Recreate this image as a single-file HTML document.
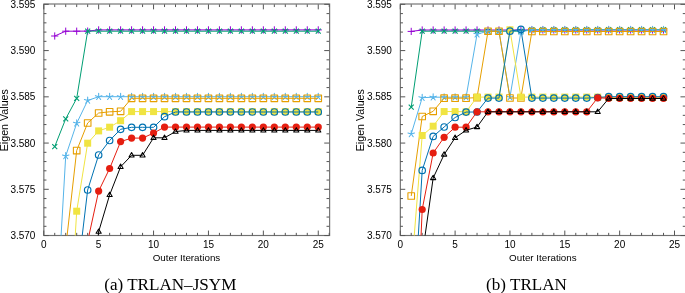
<!DOCTYPE html><html><head><meta charset="utf-8"><style>html,body{margin:0;padding:0;background:#fff;width:685px;height:293px;overflow:hidden}svg{display:block;will-change:transform}text{font-family:"Liberation Sans",sans-serif}</style></head><body>
<svg width="685" height="293" viewBox="0 0 685 293">
<clipPath id="c0"><rect x="43.75" y="4.35" width="285.48" height="231.20"/></clipPath>
<rect x="43.85" y="4.00" width="285.78" height="231.50" fill="none" stroke="#707070" stroke-width="1.15"/>
<path d="M43.75 235.55v-5.0M43.75 4.35v5.0M54.73 235.55v-2.7M54.73 4.35v2.7M65.71 235.55v-2.7M65.71 4.35v2.7M76.69 235.55v-2.7M76.69 4.35v2.7M87.67 235.55v-2.7M87.67 4.35v2.7M98.65 235.55v-5.0M98.65 4.35v5.0M109.63 235.55v-2.7M109.63 4.35v2.7M120.61 235.55v-2.7M120.61 4.35v2.7M131.59 235.55v-2.7M131.59 4.35v2.7M142.57 235.55v-2.7M142.57 4.35v2.7M153.55 235.55v-5.0M153.55 4.35v5.0M164.53 235.55v-2.7M164.53 4.35v2.7M175.51 235.55v-2.7M175.51 4.35v2.7M186.49 235.55v-2.7M186.49 4.35v2.7M197.47 235.55v-2.7M197.47 4.35v2.7M208.45 235.55v-5.0M208.45 4.35v5.0M219.43 235.55v-2.7M219.43 4.35v2.7M230.41 235.55v-2.7M230.41 4.35v2.7M241.39 235.55v-2.7M241.39 4.35v2.7M252.37 235.55v-2.7M252.37 4.35v2.7M263.35 235.55v-5.0M263.35 4.35v5.0M274.33 235.55v-2.7M274.33 4.35v2.7M285.31 235.55v-2.7M285.31 4.35v2.7M296.29 235.55v-2.7M296.29 4.35v2.7M307.27 235.55v-2.7M307.27 4.35v2.7M318.25 235.55v-5.0M318.25 4.35v5.0M329.23 235.55v-2.7M329.23 4.35v2.7M43.75 4.35h5.0M329.23 4.35h-5.0M43.75 13.60h2.7M329.23 13.60h-2.7M43.75 22.85h2.7M329.23 22.85h-2.7M43.75 32.09h2.7M329.23 32.09h-2.7M43.75 41.34h2.7M329.23 41.34h-2.7M43.75 50.59h5.0M329.23 50.59h-5.0M43.75 59.84h2.7M329.23 59.84h-2.7M43.75 69.09h2.7M329.23 69.09h-2.7M43.75 78.33h2.7M329.23 78.33h-2.7M43.75 87.58h2.7M329.23 87.58h-2.7M43.75 96.83h5.0M329.23 96.83h-5.0M43.75 106.08h2.7M329.23 106.08h-2.7M43.75 115.33h2.7M329.23 115.33h-2.7M43.75 124.57h2.7M329.23 124.57h-2.7M43.75 133.82h2.7M329.23 133.82h-2.7M43.75 143.07h5.0M329.23 143.07h-5.0M43.75 152.32h2.7M329.23 152.32h-2.7M43.75 161.57h2.7M329.23 161.57h-2.7M43.75 170.81h2.7M329.23 170.81h-2.7M43.75 180.06h2.7M329.23 180.06h-2.7M43.75 189.31h5.0M329.23 189.31h-5.0M43.75 198.56h2.7M329.23 198.56h-2.7M43.75 207.81h2.7M329.23 207.81h-2.7M43.75 217.05h2.7M329.23 217.05h-2.7M43.75 226.30h2.7M329.23 226.30h-2.7M43.75 235.55h5.0M329.23 235.55h-5.0" stroke="#555" stroke-width="1" fill="none"/>
<text x="35.45" y="7.85" font-size="10" text-anchor="end">3.595</text>
<text x="35.45" y="54.09" font-size="10" text-anchor="end">3.590</text>
<text x="35.45" y="100.33" font-size="10" text-anchor="end">3.585</text>
<text x="35.45" y="146.57" font-size="10" text-anchor="end">3.580</text>
<text x="35.45" y="192.81" font-size="10" text-anchor="end">3.575</text>
<text x="35.45" y="239.05" font-size="10" text-anchor="end">3.570</text>
<text x="43.75" y="247.85" font-size="10" text-anchor="middle">0</text>
<text x="98.65" y="247.85" font-size="10" text-anchor="middle">5</text>
<text x="153.55" y="247.85" font-size="10" text-anchor="middle">10</text>
<text x="208.45" y="247.85" font-size="10" text-anchor="middle">15</text>
<text x="263.35" y="247.85" font-size="10" text-anchor="middle">20</text>
<text x="318.25" y="247.85" font-size="10" text-anchor="middle">25</text>
<text x="186.49" y="260.85" font-size="9.8" text-anchor="middle">Outer Iterations</text>
<text transform="translate(7.85,120.20) rotate(-90)" font-size="10.7" text-anchor="middle">Eigen Values</text>
<text x="170.30" y="289.70" font-size="17.1" text-anchor="middle" style="font-family:'Liberation Serif',serif">(a) TRLAN–JSYM</text>
<g clip-path="url(#c0)"><path d="M54.73 36.00L65.71 31.20L76.69 31.20L87.67 31.10L98.65 29.90L109.63 29.90L120.61 29.90L131.59 29.90L142.57 29.90L153.55 29.90L164.53 29.90L175.51 29.90L186.49 29.90L197.47 29.90L208.45 29.90L219.43 29.90L230.41 29.90L241.39 29.90L252.37 29.90L263.35 29.90L274.33 29.90L285.31 29.90L296.29 29.90L307.27 29.90L318.25 29.90" stroke="#9400D3" stroke-width="1" fill="none" stroke-linejoin="round"/><path d="M51.13 36.00H58.33M54.73 32.40V39.60" stroke="#9400D3" stroke-width="1.0" fill="none"/><path d="M62.11 31.20H69.31M65.71 27.60V34.80" stroke="#9400D3" stroke-width="1.0" fill="none"/><path d="M73.09 31.20H80.29M76.69 27.60V34.80" stroke="#9400D3" stroke-width="1.0" fill="none"/><path d="M84.07 31.10H91.27M87.67 27.50V34.70" stroke="#9400D3" stroke-width="1.0" fill="none"/><path d="M95.05 29.90H102.25M98.65 26.30V33.50" stroke="#9400D3" stroke-width="1.0" fill="none"/><path d="M106.03 29.90H113.23M109.63 26.30V33.50" stroke="#9400D3" stroke-width="1.0" fill="none"/><path d="M117.01 29.90H124.21M120.61 26.30V33.50" stroke="#9400D3" stroke-width="1.0" fill="none"/><path d="M127.99 29.90H135.19M131.59 26.30V33.50" stroke="#9400D3" stroke-width="1.0" fill="none"/><path d="M138.97 29.90H146.17M142.57 26.30V33.50" stroke="#9400D3" stroke-width="1.0" fill="none"/><path d="M149.95 29.90H157.15M153.55 26.30V33.50" stroke="#9400D3" stroke-width="1.0" fill="none"/><path d="M160.93 29.90H168.13M164.53 26.30V33.50" stroke="#9400D3" stroke-width="1.0" fill="none"/><path d="M171.91 29.90H179.11M175.51 26.30V33.50" stroke="#9400D3" stroke-width="1.0" fill="none"/><path d="M182.89 29.90H190.09M186.49 26.30V33.50" stroke="#9400D3" stroke-width="1.0" fill="none"/><path d="M193.87 29.90H201.07M197.47 26.30V33.50" stroke="#9400D3" stroke-width="1.0" fill="none"/><path d="M204.85 29.90H212.05M208.45 26.30V33.50" stroke="#9400D3" stroke-width="1.0" fill="none"/><path d="M215.83 29.90H223.03M219.43 26.30V33.50" stroke="#9400D3" stroke-width="1.0" fill="none"/><path d="M226.81 29.90H234.01M230.41 26.30V33.50" stroke="#9400D3" stroke-width="1.0" fill="none"/><path d="M237.79 29.90H244.99M241.39 26.30V33.50" stroke="#9400D3" stroke-width="1.0" fill="none"/><path d="M248.77 29.90H255.97M252.37 26.30V33.50" stroke="#9400D3" stroke-width="1.0" fill="none"/><path d="M259.75 29.90H266.95M263.35 26.30V33.50" stroke="#9400D3" stroke-width="1.0" fill="none"/><path d="M270.73 29.90H277.93M274.33 26.30V33.50" stroke="#9400D3" stroke-width="1.0" fill="none"/><path d="M281.71 29.90H288.91M285.31 26.30V33.50" stroke="#9400D3" stroke-width="1.0" fill="none"/><path d="M292.69 29.90H299.89M296.29 26.30V33.50" stroke="#9400D3" stroke-width="1.0" fill="none"/><path d="M303.67 29.90H310.87M307.27 26.30V33.50" stroke="#9400D3" stroke-width="1.0" fill="none"/><path d="M314.65 29.90H321.85M318.25 26.30V33.50" stroke="#9400D3" stroke-width="1.0" fill="none"/><path d="M54.73 146.60L65.71 118.80L76.69 98.40L87.67 31.10L98.65 31.20L109.63 31.20L120.61 31.20L131.59 31.20L142.57 31.20L153.55 31.20L164.53 31.20L175.51 31.20L186.49 31.20L197.47 31.20L208.45 31.20L219.43 31.20L230.41 31.20L241.39 31.20L252.37 31.20L263.35 31.20L274.33 31.20L285.31 31.20L296.29 31.20L307.27 31.20L318.25 31.20" stroke="#009E73" stroke-width="1" fill="none" stroke-linejoin="round"/><path d="M52.23 144.10L57.23 149.10M52.23 149.10L57.23 144.10" stroke="#009E73" stroke-width="1.15" fill="none"/><path d="M63.21 116.30L68.21 121.30M63.21 121.30L68.21 116.30" stroke="#009E73" stroke-width="1.15" fill="none"/><path d="M74.19 95.90L79.19 100.90M74.19 100.90L79.19 95.90" stroke="#009E73" stroke-width="1.15" fill="none"/><path d="M85.17 28.60L90.17 33.60M85.17 33.60L90.17 28.60" stroke="#009E73" stroke-width="1.15" fill="none"/><path d="M96.15 28.70L101.15 33.70M96.15 33.70L101.15 28.70" stroke="#009E73" stroke-width="1.15" fill="none"/><path d="M107.13 28.70L112.13 33.70M107.13 33.70L112.13 28.70" stroke="#009E73" stroke-width="1.15" fill="none"/><path d="M118.11 28.70L123.11 33.70M118.11 33.70L123.11 28.70" stroke="#009E73" stroke-width="1.15" fill="none"/><path d="M129.09 28.70L134.09 33.70M129.09 33.70L134.09 28.70" stroke="#009E73" stroke-width="1.15" fill="none"/><path d="M140.07 28.70L145.07 33.70M140.07 33.70L145.07 28.70" stroke="#009E73" stroke-width="1.15" fill="none"/><path d="M151.05 28.70L156.05 33.70M151.05 33.70L156.05 28.70" stroke="#009E73" stroke-width="1.15" fill="none"/><path d="M162.03 28.70L167.03 33.70M162.03 33.70L167.03 28.70" stroke="#009E73" stroke-width="1.15" fill="none"/><path d="M173.01 28.70L178.01 33.70M173.01 33.70L178.01 28.70" stroke="#009E73" stroke-width="1.15" fill="none"/><path d="M183.99 28.70L188.99 33.70M183.99 33.70L188.99 28.70" stroke="#009E73" stroke-width="1.15" fill="none"/><path d="M194.97 28.70L199.97 33.70M194.97 33.70L199.97 28.70" stroke="#009E73" stroke-width="1.15" fill="none"/><path d="M205.95 28.70L210.95 33.70M205.95 33.70L210.95 28.70" stroke="#009E73" stroke-width="1.15" fill="none"/><path d="M216.93 28.70L221.93 33.70M216.93 33.70L221.93 28.70" stroke="#009E73" stroke-width="1.15" fill="none"/><path d="M227.91 28.70L232.91 33.70M227.91 33.70L232.91 28.70" stroke="#009E73" stroke-width="1.15" fill="none"/><path d="M238.89 28.70L243.89 33.70M238.89 33.70L243.89 28.70" stroke="#009E73" stroke-width="1.15" fill="none"/><path d="M249.87 28.70L254.87 33.70M249.87 33.70L254.87 28.70" stroke="#009E73" stroke-width="1.15" fill="none"/><path d="M260.85 28.70L265.85 33.70M260.85 33.70L265.85 28.70" stroke="#009E73" stroke-width="1.15" fill="none"/><path d="M271.83 28.70L276.83 33.70M271.83 33.70L276.83 28.70" stroke="#009E73" stroke-width="1.15" fill="none"/><path d="M282.81 28.70L287.81 33.70M282.81 33.70L287.81 28.70" stroke="#009E73" stroke-width="1.15" fill="none"/><path d="M293.79 28.70L298.79 33.70M293.79 33.70L298.79 28.70" stroke="#009E73" stroke-width="1.15" fill="none"/><path d="M304.77 28.70L309.77 33.70M304.77 33.70L309.77 28.70" stroke="#009E73" stroke-width="1.15" fill="none"/><path d="M315.75 28.70L320.75 33.70M315.75 33.70L320.75 28.70" stroke="#009E73" stroke-width="1.15" fill="none"/><path d="M54.73 345.00L65.71 156.00L76.69 123.30L87.67 100.50L98.65 96.70L109.63 96.70L120.61 96.70L131.59 96.70L142.57 96.70L153.55 96.70L164.53 96.70L175.51 96.70L186.49 96.70L197.47 96.70L208.45 96.70L219.43 96.70L230.41 96.70L241.39 96.70L252.37 96.70L263.35 96.70L274.33 96.70L285.31 96.70L296.29 96.70L307.27 96.70L318.25 96.70" stroke="#56B4E9" stroke-width="1" fill="none" stroke-linejoin="round"/><path d="M54.73 345.00L54.73 341.60M54.73 345.00L57.96 343.95M54.73 345.00L56.73 347.75M54.73 345.00L52.73 347.75M54.73 345.00L51.50 343.95" stroke="#56B4E9" stroke-width="1.1" fill="none" stroke-linecap="round"/><path d="M65.71 156.00L65.71 152.60M65.71 156.00L68.94 154.95M65.71 156.00L67.71 158.75M65.71 156.00L63.71 158.75M65.71 156.00L62.48 154.95" stroke="#56B4E9" stroke-width="1.1" fill="none" stroke-linecap="round"/><path d="M76.69 123.30L76.69 119.90M76.69 123.30L79.92 122.25M76.69 123.30L78.69 126.05M76.69 123.30L74.69 126.05M76.69 123.30L73.46 122.25" stroke="#56B4E9" stroke-width="1.1" fill="none" stroke-linecap="round"/><path d="M87.67 100.50L87.67 97.10M87.67 100.50L90.90 99.45M87.67 100.50L89.67 103.25M87.67 100.50L85.67 103.25M87.67 100.50L84.44 99.45" stroke="#56B4E9" stroke-width="1.1" fill="none" stroke-linecap="round"/><path d="M98.65 96.70L98.65 93.30M98.65 96.70L101.88 95.65M98.65 96.70L100.65 99.45M98.65 96.70L96.65 99.45M98.65 96.70L95.42 95.65" stroke="#56B4E9" stroke-width="1.1" fill="none" stroke-linecap="round"/><path d="M109.63 96.70L109.63 93.30M109.63 96.70L112.86 95.65M109.63 96.70L111.63 99.45M109.63 96.70L107.63 99.45M109.63 96.70L106.40 95.65" stroke="#56B4E9" stroke-width="1.1" fill="none" stroke-linecap="round"/><path d="M120.61 96.70L120.61 93.30M120.61 96.70L123.84 95.65M120.61 96.70L122.61 99.45M120.61 96.70L118.61 99.45M120.61 96.70L117.38 95.65" stroke="#56B4E9" stroke-width="1.1" fill="none" stroke-linecap="round"/><path d="M131.59 96.70L131.59 93.30M131.59 96.70L134.82 95.65M131.59 96.70L133.59 99.45M131.59 96.70L129.59 99.45M131.59 96.70L128.36 95.65" stroke="#56B4E9" stroke-width="1.1" fill="none" stroke-linecap="round"/><path d="M142.57 96.70L142.57 93.30M142.57 96.70L145.80 95.65M142.57 96.70L144.57 99.45M142.57 96.70L140.57 99.45M142.57 96.70L139.34 95.65" stroke="#56B4E9" stroke-width="1.1" fill="none" stroke-linecap="round"/><path d="M153.55 96.70L153.55 93.30M153.55 96.70L156.78 95.65M153.55 96.70L155.55 99.45M153.55 96.70L151.55 99.45M153.55 96.70L150.32 95.65" stroke="#56B4E9" stroke-width="1.1" fill="none" stroke-linecap="round"/><path d="M164.53 96.70L164.53 93.30M164.53 96.70L167.76 95.65M164.53 96.70L166.53 99.45M164.53 96.70L162.53 99.45M164.53 96.70L161.30 95.65" stroke="#56B4E9" stroke-width="1.1" fill="none" stroke-linecap="round"/><path d="M175.51 96.70L175.51 93.30M175.51 96.70L178.74 95.65M175.51 96.70L177.51 99.45M175.51 96.70L173.51 99.45M175.51 96.70L172.28 95.65" stroke="#56B4E9" stroke-width="1.1" fill="none" stroke-linecap="round"/><path d="M186.49 96.70L186.49 93.30M186.49 96.70L189.72 95.65M186.49 96.70L188.49 99.45M186.49 96.70L184.49 99.45M186.49 96.70L183.26 95.65" stroke="#56B4E9" stroke-width="1.1" fill="none" stroke-linecap="round"/><path d="M197.47 96.70L197.47 93.30M197.47 96.70L200.70 95.65M197.47 96.70L199.47 99.45M197.47 96.70L195.47 99.45M197.47 96.70L194.24 95.65" stroke="#56B4E9" stroke-width="1.1" fill="none" stroke-linecap="round"/><path d="M208.45 96.70L208.45 93.30M208.45 96.70L211.68 95.65M208.45 96.70L210.45 99.45M208.45 96.70L206.45 99.45M208.45 96.70L205.22 95.65" stroke="#56B4E9" stroke-width="1.1" fill="none" stroke-linecap="round"/><path d="M219.43 96.70L219.43 93.30M219.43 96.70L222.66 95.65M219.43 96.70L221.43 99.45M219.43 96.70L217.43 99.45M219.43 96.70L216.20 95.65" stroke="#56B4E9" stroke-width="1.1" fill="none" stroke-linecap="round"/><path d="M230.41 96.70L230.41 93.30M230.41 96.70L233.64 95.65M230.41 96.70L232.41 99.45M230.41 96.70L228.41 99.45M230.41 96.70L227.18 95.65" stroke="#56B4E9" stroke-width="1.1" fill="none" stroke-linecap="round"/><path d="M241.39 96.70L241.39 93.30M241.39 96.70L244.62 95.65M241.39 96.70L243.39 99.45M241.39 96.70L239.39 99.45M241.39 96.70L238.16 95.65" stroke="#56B4E9" stroke-width="1.1" fill="none" stroke-linecap="round"/><path d="M252.37 96.70L252.37 93.30M252.37 96.70L255.60 95.65M252.37 96.70L254.37 99.45M252.37 96.70L250.37 99.45M252.37 96.70L249.14 95.65" stroke="#56B4E9" stroke-width="1.1" fill="none" stroke-linecap="round"/><path d="M263.35 96.70L263.35 93.30M263.35 96.70L266.58 95.65M263.35 96.70L265.35 99.45M263.35 96.70L261.35 99.45M263.35 96.70L260.12 95.65" stroke="#56B4E9" stroke-width="1.1" fill="none" stroke-linecap="round"/><path d="M274.33 96.70L274.33 93.30M274.33 96.70L277.56 95.65M274.33 96.70L276.33 99.45M274.33 96.70L272.33 99.45M274.33 96.70L271.10 95.65" stroke="#56B4E9" stroke-width="1.1" fill="none" stroke-linecap="round"/><path d="M285.31 96.70L285.31 93.30M285.31 96.70L288.54 95.65M285.31 96.70L287.31 99.45M285.31 96.70L283.31 99.45M285.31 96.70L282.08 95.65" stroke="#56B4E9" stroke-width="1.1" fill="none" stroke-linecap="round"/><path d="M296.29 96.70L296.29 93.30M296.29 96.70L299.52 95.65M296.29 96.70L298.29 99.45M296.29 96.70L294.29 99.45M296.29 96.70L293.06 95.65" stroke="#56B4E9" stroke-width="1.1" fill="none" stroke-linecap="round"/><path d="M307.27 96.70L307.27 93.30M307.27 96.70L310.50 95.65M307.27 96.70L309.27 99.45M307.27 96.70L305.27 99.45M307.27 96.70L304.04 95.65" stroke="#56B4E9" stroke-width="1.1" fill="none" stroke-linecap="round"/><path d="M318.25 96.70L318.25 93.30M318.25 96.70L321.48 95.65M318.25 96.70L320.25 99.45M318.25 96.70L316.25 99.45M318.25 96.70L315.02 95.65" stroke="#56B4E9" stroke-width="1.1" fill="none" stroke-linecap="round"/><path d="M54.73 340.00L65.71 247.90L76.69 150.60L87.67 123.00L98.65 113.00L109.63 111.80L120.61 111.30L131.59 98.30L142.57 98.30L153.55 98.30L164.53 98.30L175.51 98.30L186.49 98.30L197.47 98.30L208.45 98.30L219.43 98.30L230.41 98.30L241.39 98.30L252.37 98.30L263.35 98.30L274.33 98.30L285.31 98.30L296.29 98.30L307.27 98.30L318.25 98.30" stroke="#E69F00" stroke-width="1" fill="none" stroke-linejoin="round"/><rect x="51.43" y="336.70" width="6.60" height="6.60" stroke="#E69F00" stroke-width="1.1" fill="none" stroke-linejoin="round"/><rect x="62.41" y="244.60" width="6.60" height="6.60" stroke="#E69F00" stroke-width="1.1" fill="none" stroke-linejoin="round"/><rect x="73.39" y="147.30" width="6.60" height="6.60" stroke="#E69F00" stroke-width="1.1" fill="none" stroke-linejoin="round"/><rect x="84.37" y="119.70" width="6.60" height="6.60" stroke="#E69F00" stroke-width="1.1" fill="none" stroke-linejoin="round"/><rect x="95.35" y="109.70" width="6.60" height="6.60" stroke="#E69F00" stroke-width="1.1" fill="none" stroke-linejoin="round"/><rect x="106.33" y="108.50" width="6.60" height="6.60" stroke="#E69F00" stroke-width="1.1" fill="none" stroke-linejoin="round"/><rect x="117.31" y="108.00" width="6.60" height="6.60" stroke="#E69F00" stroke-width="1.1" fill="none" stroke-linejoin="round"/><rect x="128.29" y="95.00" width="6.60" height="6.60" stroke="#E69F00" stroke-width="1.1" fill="none" stroke-linejoin="round"/><rect x="139.27" y="95.00" width="6.60" height="6.60" stroke="#E69F00" stroke-width="1.1" fill="none" stroke-linejoin="round"/><rect x="150.25" y="95.00" width="6.60" height="6.60" stroke="#E69F00" stroke-width="1.1" fill="none" stroke-linejoin="round"/><rect x="161.23" y="95.00" width="6.60" height="6.60" stroke="#E69F00" stroke-width="1.1" fill="none" stroke-linejoin="round"/><rect x="172.21" y="95.00" width="6.60" height="6.60" stroke="#E69F00" stroke-width="1.1" fill="none" stroke-linejoin="round"/><rect x="183.19" y="95.00" width="6.60" height="6.60" stroke="#E69F00" stroke-width="1.1" fill="none" stroke-linejoin="round"/><rect x="194.17" y="95.00" width="6.60" height="6.60" stroke="#E69F00" stroke-width="1.1" fill="none" stroke-linejoin="round"/><rect x="205.15" y="95.00" width="6.60" height="6.60" stroke="#E69F00" stroke-width="1.1" fill="none" stroke-linejoin="round"/><rect x="216.13" y="95.00" width="6.60" height="6.60" stroke="#E69F00" stroke-width="1.1" fill="none" stroke-linejoin="round"/><rect x="227.11" y="95.00" width="6.60" height="6.60" stroke="#E69F00" stroke-width="1.1" fill="none" stroke-linejoin="round"/><rect x="238.09" y="95.00" width="6.60" height="6.60" stroke="#E69F00" stroke-width="1.1" fill="none" stroke-linejoin="round"/><rect x="249.07" y="95.00" width="6.60" height="6.60" stroke="#E69F00" stroke-width="1.1" fill="none" stroke-linejoin="round"/><rect x="260.05" y="95.00" width="6.60" height="6.60" stroke="#E69F00" stroke-width="1.1" fill="none" stroke-linejoin="round"/><rect x="271.03" y="95.00" width="6.60" height="6.60" stroke="#E69F00" stroke-width="1.1" fill="none" stroke-linejoin="round"/><rect x="282.01" y="95.00" width="6.60" height="6.60" stroke="#E69F00" stroke-width="1.1" fill="none" stroke-linejoin="round"/><rect x="292.99" y="95.00" width="6.60" height="6.60" stroke="#E69F00" stroke-width="1.1" fill="none" stroke-linejoin="round"/><rect x="303.97" y="95.00" width="6.60" height="6.60" stroke="#E69F00" stroke-width="1.1" fill="none" stroke-linejoin="round"/><rect x="314.95" y="95.00" width="6.60" height="6.60" stroke="#E69F00" stroke-width="1.1" fill="none" stroke-linejoin="round"/><path d="M65.71 397.00L76.69 211.20L87.67 143.20L98.65 130.90L109.63 127.20L120.61 120.70L131.59 111.60L142.57 111.60L153.55 111.60L164.53 111.60L175.51 111.60L186.49 111.60L197.47 111.60L208.45 111.60L219.43 111.60L230.41 111.60L241.39 111.60L252.37 111.60L263.35 111.60L274.33 111.60L285.31 111.60L296.29 111.60L307.27 111.60L318.25 111.60" stroke="#F0E442" stroke-width="1" fill="none" stroke-linejoin="round"/><rect x="62.21" y="393.50" width="7.00" height="7.00" fill="#F0E442"/><rect x="73.19" y="207.70" width="7.00" height="7.00" fill="#F0E442"/><rect x="84.17" y="139.70" width="7.00" height="7.00" fill="#F0E442"/><rect x="95.15" y="127.40" width="7.00" height="7.00" fill="#F0E442"/><rect x="106.13" y="123.70" width="7.00" height="7.00" fill="#F0E442"/><rect x="117.11" y="117.20" width="7.00" height="7.00" fill="#F0E442"/><rect x="128.09" y="108.10" width="7.00" height="7.00" fill="#F0E442"/><rect x="139.07" y="108.10" width="7.00" height="7.00" fill="#F0E442"/><rect x="150.05" y="108.10" width="7.00" height="7.00" fill="#F0E442"/><rect x="161.03" y="108.10" width="7.00" height="7.00" fill="#F0E442"/><rect x="172.01" y="108.10" width="7.00" height="7.00" fill="#F0E442"/><rect x="182.99" y="108.10" width="7.00" height="7.00" fill="#F0E442"/><rect x="193.97" y="108.10" width="7.00" height="7.00" fill="#F0E442"/><rect x="204.95" y="108.10" width="7.00" height="7.00" fill="#F0E442"/><rect x="215.93" y="108.10" width="7.00" height="7.00" fill="#F0E442"/><rect x="226.91" y="108.10" width="7.00" height="7.00" fill="#F0E442"/><rect x="237.89" y="108.10" width="7.00" height="7.00" fill="#F0E442"/><rect x="248.87" y="108.10" width="7.00" height="7.00" fill="#F0E442"/><rect x="259.85" y="108.10" width="7.00" height="7.00" fill="#F0E442"/><rect x="270.83" y="108.10" width="7.00" height="7.00" fill="#F0E442"/><rect x="281.81" y="108.10" width="7.00" height="7.00" fill="#F0E442"/><rect x="292.79" y="108.10" width="7.00" height="7.00" fill="#F0E442"/><rect x="303.77" y="108.10" width="7.00" height="7.00" fill="#F0E442"/><rect x="314.75" y="108.10" width="7.00" height="7.00" fill="#F0E442"/><path d="M76.69 282.00L87.67 190.00L98.65 155.00L109.63 140.50L120.61 129.30L131.59 127.30L142.57 127.30L153.55 127.30L164.53 116.70L175.51 112.00L186.49 112.00L197.47 112.00L208.45 112.00L219.43 112.00L230.41 112.00L241.39 112.00L252.37 112.00L263.35 112.00L274.33 112.00L285.31 112.00L296.29 112.00L307.27 112.00L318.25 112.00" stroke="#0072B2" stroke-width="1" fill="none" stroke-linejoin="round"/><circle cx="76.69" cy="282.00" r="3.25" stroke="#0072B2" stroke-width="1.2" fill="none"/><circle cx="87.67" cy="190.00" r="3.25" stroke="#0072B2" stroke-width="1.2" fill="none"/><circle cx="98.65" cy="155.00" r="3.25" stroke="#0072B2" stroke-width="1.2" fill="none"/><circle cx="109.63" cy="140.50" r="3.25" stroke="#0072B2" stroke-width="1.2" fill="none"/><circle cx="120.61" cy="129.30" r="3.25" stroke="#0072B2" stroke-width="1.2" fill="none"/><circle cx="131.59" cy="127.30" r="3.25" stroke="#0072B2" stroke-width="1.2" fill="none"/><circle cx="142.57" cy="127.30" r="3.25" stroke="#0072B2" stroke-width="1.2" fill="none"/><circle cx="153.55" cy="127.30" r="3.25" stroke="#0072B2" stroke-width="1.2" fill="none"/><circle cx="164.53" cy="116.70" r="3.25" stroke="#0072B2" stroke-width="1.2" fill="none"/><circle cx="175.51" cy="112.00" r="3.25" stroke="#0072B2" stroke-width="1.2" fill="none"/><circle cx="186.49" cy="112.00" r="3.25" stroke="#0072B2" stroke-width="1.2" fill="none"/><circle cx="197.47" cy="112.00" r="3.25" stroke="#0072B2" stroke-width="1.2" fill="none"/><circle cx="208.45" cy="112.00" r="3.25" stroke="#0072B2" stroke-width="1.2" fill="none"/><circle cx="219.43" cy="112.00" r="3.25" stroke="#0072B2" stroke-width="1.2" fill="none"/><circle cx="230.41" cy="112.00" r="3.25" stroke="#0072B2" stroke-width="1.2" fill="none"/><circle cx="241.39" cy="112.00" r="3.25" stroke="#0072B2" stroke-width="1.2" fill="none"/><circle cx="252.37" cy="112.00" r="3.25" stroke="#0072B2" stroke-width="1.2" fill="none"/><circle cx="263.35" cy="112.00" r="3.25" stroke="#0072B2" stroke-width="1.2" fill="none"/><circle cx="274.33" cy="112.00" r="3.25" stroke="#0072B2" stroke-width="1.2" fill="none"/><circle cx="285.31" cy="112.00" r="3.25" stroke="#0072B2" stroke-width="1.2" fill="none"/><circle cx="296.29" cy="112.00" r="3.25" stroke="#0072B2" stroke-width="1.2" fill="none"/><circle cx="307.27" cy="112.00" r="3.25" stroke="#0072B2" stroke-width="1.2" fill="none"/><circle cx="318.25" cy="112.00" r="3.25" stroke="#0072B2" stroke-width="1.2" fill="none"/><path d="M87.67 241.50L98.65 191.10L109.63 168.50L120.61 141.60L131.59 138.10L142.57 138.10L153.55 133.10L164.53 127.10L175.51 127.10L186.49 127.10L197.47 127.10L208.45 127.10L219.43 127.10L230.41 127.10L241.39 127.10L252.37 127.10L263.35 127.10L274.33 127.10L285.31 127.10L296.29 127.10L307.27 127.10L318.25 127.10" stroke="#E51E10" stroke-width="1" fill="none" stroke-linejoin="round"/><circle cx="87.67" cy="241.50" r="3.6" fill="#E51E10"/><circle cx="98.65" cy="191.10" r="3.6" fill="#E51E10"/><circle cx="109.63" cy="168.50" r="3.6" fill="#E51E10"/><circle cx="120.61" cy="141.60" r="3.6" fill="#E51E10"/><circle cx="131.59" cy="138.10" r="3.6" fill="#E51E10"/><circle cx="142.57" cy="138.10" r="3.6" fill="#E51E10"/><circle cx="153.55" cy="133.10" r="3.6" fill="#E51E10"/><circle cx="164.53" cy="127.10" r="3.6" fill="#E51E10"/><circle cx="175.51" cy="127.10" r="3.6" fill="#E51E10"/><circle cx="186.49" cy="127.10" r="3.6" fill="#E51E10"/><circle cx="197.47" cy="127.10" r="3.6" fill="#E51E10"/><circle cx="208.45" cy="127.10" r="3.6" fill="#E51E10"/><circle cx="219.43" cy="127.10" r="3.6" fill="#E51E10"/><circle cx="230.41" cy="127.10" r="3.6" fill="#E51E10"/><circle cx="241.39" cy="127.10" r="3.6" fill="#E51E10"/><circle cx="252.37" cy="127.10" r="3.6" fill="#E51E10"/><circle cx="263.35" cy="127.10" r="3.6" fill="#E51E10"/><circle cx="274.33" cy="127.10" r="3.6" fill="#E51E10"/><circle cx="285.31" cy="127.10" r="3.6" fill="#E51E10"/><circle cx="296.29" cy="127.10" r="3.6" fill="#E51E10"/><circle cx="307.27" cy="127.10" r="3.6" fill="#E51E10"/><circle cx="318.25" cy="127.10" r="3.6" fill="#E51E10"/><path d="M87.67 330.00L98.65 231.70L109.63 194.90L120.61 166.80L131.59 155.30L142.57 155.30L153.55 137.80L164.53 137.80L175.51 131.60L186.49 130.40L197.47 130.40L208.45 130.40L219.43 130.40L230.41 130.40L241.39 130.40L252.37 130.40L263.35 130.40L274.33 130.40L285.31 130.40L296.29 130.40L307.27 130.40L318.25 130.40" stroke="#000000" stroke-width="1" fill="none" stroke-linejoin="round"/><path d="M87.67 327.25L90.27 331.60H85.07Z" stroke="#000000" stroke-width="1.05" fill="none" stroke-linejoin="round"/><path d="M98.65 228.95L101.25 233.30H96.05Z" stroke="#000000" stroke-width="1.05" fill="none" stroke-linejoin="round"/><path d="M109.63 192.15L112.23 196.50H107.03Z" stroke="#000000" stroke-width="1.05" fill="none" stroke-linejoin="round"/><path d="M120.61 164.05L123.21 168.40H118.01Z" stroke="#000000" stroke-width="1.05" fill="none" stroke-linejoin="round"/><path d="M131.59 152.55L134.19 156.90H128.99Z" stroke="#000000" stroke-width="1.05" fill="none" stroke-linejoin="round"/><path d="M142.57 152.55L145.17 156.90H139.97Z" stroke="#000000" stroke-width="1.05" fill="none" stroke-linejoin="round"/><path d="M153.55 135.05L156.15 139.40H150.95Z" stroke="#000000" stroke-width="1.05" fill="none" stroke-linejoin="round"/><path d="M164.53 135.05L167.13 139.40H161.93Z" stroke="#000000" stroke-width="1.05" fill="none" stroke-linejoin="round"/><path d="M175.51 128.85L178.11 133.20H172.91Z" stroke="#000000" stroke-width="1.05" fill="none" stroke-linejoin="round"/><path d="M186.49 127.65L189.09 132.00H183.89Z" stroke="#000000" stroke-width="1.05" fill="none" stroke-linejoin="round"/><path d="M197.47 127.65L200.07 132.00H194.87Z" stroke="#000000" stroke-width="1.05" fill="none" stroke-linejoin="round"/><path d="M208.45 127.65L211.05 132.00H205.85Z" stroke="#000000" stroke-width="1.05" fill="none" stroke-linejoin="round"/><path d="M219.43 127.65L222.03 132.00H216.83Z" stroke="#000000" stroke-width="1.05" fill="none" stroke-linejoin="round"/><path d="M230.41 127.65L233.01 132.00H227.81Z" stroke="#000000" stroke-width="1.05" fill="none" stroke-linejoin="round"/><path d="M241.39 127.65L243.99 132.00H238.79Z" stroke="#000000" stroke-width="1.05" fill="none" stroke-linejoin="round"/><path d="M252.37 127.65L254.97 132.00H249.77Z" stroke="#000000" stroke-width="1.05" fill="none" stroke-linejoin="round"/><path d="M263.35 127.65L265.95 132.00H260.75Z" stroke="#000000" stroke-width="1.05" fill="none" stroke-linejoin="round"/><path d="M274.33 127.65L276.93 132.00H271.73Z" stroke="#000000" stroke-width="1.05" fill="none" stroke-linejoin="round"/><path d="M285.31 127.65L287.91 132.00H282.71Z" stroke="#000000" stroke-width="1.05" fill="none" stroke-linejoin="round"/><path d="M296.29 127.65L298.89 132.00H293.69Z" stroke="#000000" stroke-width="1.05" fill="none" stroke-linejoin="round"/><path d="M307.27 127.65L309.87 132.00H304.67Z" stroke="#000000" stroke-width="1.05" fill="none" stroke-linejoin="round"/><path d="M318.25 127.65L320.85 132.00H315.65Z" stroke="#000000" stroke-width="1.05" fill="none" stroke-linejoin="round"/></g>
<clipPath id="c1"><rect x="400.25" y="4.35" width="285.22" height="231.20"/></clipPath>
<rect x="400.35" y="4.00" width="285.52" height="231.50" fill="none" stroke="#707070" stroke-width="1.15"/>
<path d="M400.25 235.55v-5.0M400.25 4.35v5.0M411.22 235.55v-2.7M411.22 4.35v2.7M422.19 235.55v-2.7M422.19 4.35v2.7M433.16 235.55v-2.7M433.16 4.35v2.7M444.13 235.55v-2.7M444.13 4.35v2.7M455.10 235.55v-5.0M455.10 4.35v5.0M466.07 235.55v-2.7M466.07 4.35v2.7M477.04 235.55v-2.7M477.04 4.35v2.7M488.01 235.55v-2.7M488.01 4.35v2.7M498.98 235.55v-2.7M498.98 4.35v2.7M509.95 235.55v-5.0M509.95 4.35v5.0M520.92 235.55v-2.7M520.92 4.35v2.7M531.89 235.55v-2.7M531.89 4.35v2.7M542.86 235.55v-2.7M542.86 4.35v2.7M553.83 235.55v-2.7M553.83 4.35v2.7M564.80 235.55v-5.0M564.80 4.35v5.0M575.77 235.55v-2.7M575.77 4.35v2.7M586.74 235.55v-2.7M586.74 4.35v2.7M597.71 235.55v-2.7M597.71 4.35v2.7M608.68 235.55v-2.7M608.68 4.35v2.7M619.65 235.55v-5.0M619.65 4.35v5.0M630.62 235.55v-2.7M630.62 4.35v2.7M641.59 235.55v-2.7M641.59 4.35v2.7M652.56 235.55v-2.7M652.56 4.35v2.7M663.53 235.55v-2.7M663.53 4.35v2.7M674.50 235.55v-5.0M674.50 4.35v5.0M685.47 235.55v-2.7M685.47 4.35v2.7M400.25 4.35h5.0M685.47 4.35h-5.0M400.25 13.60h2.7M685.47 13.60h-2.7M400.25 22.85h2.7M685.47 22.85h-2.7M400.25 32.09h2.7M685.47 32.09h-2.7M400.25 41.34h2.7M685.47 41.34h-2.7M400.25 50.59h5.0M685.47 50.59h-5.0M400.25 59.84h2.7M685.47 59.84h-2.7M400.25 69.09h2.7M685.47 69.09h-2.7M400.25 78.33h2.7M685.47 78.33h-2.7M400.25 87.58h2.7M685.47 87.58h-2.7M400.25 96.83h5.0M685.47 96.83h-5.0M400.25 106.08h2.7M685.47 106.08h-2.7M400.25 115.33h2.7M685.47 115.33h-2.7M400.25 124.57h2.7M685.47 124.57h-2.7M400.25 133.82h2.7M685.47 133.82h-2.7M400.25 143.07h5.0M685.47 143.07h-5.0M400.25 152.32h2.7M685.47 152.32h-2.7M400.25 161.57h2.7M685.47 161.57h-2.7M400.25 170.81h2.7M685.47 170.81h-2.7M400.25 180.06h2.7M685.47 180.06h-2.7M400.25 189.31h5.0M685.47 189.31h-5.0M400.25 198.56h2.7M685.47 198.56h-2.7M400.25 207.81h2.7M685.47 207.81h-2.7M400.25 217.05h2.7M685.47 217.05h-2.7M400.25 226.30h2.7M685.47 226.30h-2.7M400.25 235.55h5.0M685.47 235.55h-5.0" stroke="#555" stroke-width="1" fill="none"/>
<text x="391.95" y="7.85" font-size="10" text-anchor="end">3.595</text>
<text x="391.95" y="54.09" font-size="10" text-anchor="end">3.590</text>
<text x="391.95" y="100.33" font-size="10" text-anchor="end">3.585</text>
<text x="391.95" y="146.57" font-size="10" text-anchor="end">3.580</text>
<text x="391.95" y="192.81" font-size="10" text-anchor="end">3.575</text>
<text x="391.95" y="239.05" font-size="10" text-anchor="end">3.570</text>
<text x="400.25" y="247.85" font-size="10" text-anchor="middle">0</text>
<text x="455.10" y="247.85" font-size="10" text-anchor="middle">5</text>
<text x="509.95" y="247.85" font-size="10" text-anchor="middle">10</text>
<text x="564.80" y="247.85" font-size="10" text-anchor="middle">15</text>
<text x="619.65" y="247.85" font-size="10" text-anchor="middle">20</text>
<text x="674.50" y="247.85" font-size="10" text-anchor="middle">25</text>
<text x="542.86" y="260.85" font-size="9.8" text-anchor="middle">Outer Iterations</text>
<text transform="translate(364.35,120.20) rotate(-90)" font-size="10.7" text-anchor="middle">Eigen Values</text>
<text x="526.50" y="289.70" font-size="17.1" text-anchor="middle" style="font-family:'Liberation Serif',serif">(b) TRLAN</text>
<g clip-path="url(#c1)"><path d="M411.22 31.40L422.19 30.00L433.16 30.00L444.13 30.00L455.10 30.00L466.07 30.00L477.04 30.00L488.01 30.00L498.98 30.00L509.95 30.00L520.92 30.00L531.89 30.00L542.86 30.00L553.83 30.00L564.80 30.00L575.77 30.00L586.74 30.00L597.71 30.00L608.68 30.00L619.65 30.00L630.62 30.00L641.59 30.00L652.56 30.00L663.53 30.00" stroke="#9400D3" stroke-width="1" fill="none" stroke-linejoin="round"/><path d="M407.62 31.40H414.82M411.22 27.80V35.00" stroke="#9400D3" stroke-width="1.0" fill="none"/><path d="M418.59 30.00H425.79M422.19 26.40V33.60" stroke="#9400D3" stroke-width="1.0" fill="none"/><path d="M429.56 30.00H436.76M433.16 26.40V33.60" stroke="#9400D3" stroke-width="1.0" fill="none"/><path d="M440.53 30.00H447.73M444.13 26.40V33.60" stroke="#9400D3" stroke-width="1.0" fill="none"/><path d="M451.50 30.00H458.70M455.10 26.40V33.60" stroke="#9400D3" stroke-width="1.0" fill="none"/><path d="M462.47 30.00H469.67M466.07 26.40V33.60" stroke="#9400D3" stroke-width="1.0" fill="none"/><path d="M473.44 30.00H480.64M477.04 26.40V33.60" stroke="#9400D3" stroke-width="1.0" fill="none"/><path d="M484.41 30.00H491.61M488.01 26.40V33.60" stroke="#9400D3" stroke-width="1.0" fill="none"/><path d="M495.38 30.00H502.58M498.98 26.40V33.60" stroke="#9400D3" stroke-width="1.0" fill="none"/><path d="M506.35 30.00H513.55M509.95 26.40V33.60" stroke="#9400D3" stroke-width="1.0" fill="none"/><path d="M517.32 30.00H524.52M520.92 26.40V33.60" stroke="#9400D3" stroke-width="1.0" fill="none"/><path d="M528.29 30.00H535.49M531.89 26.40V33.60" stroke="#9400D3" stroke-width="1.0" fill="none"/><path d="M539.26 30.00H546.46M542.86 26.40V33.60" stroke="#9400D3" stroke-width="1.0" fill="none"/><path d="M550.23 30.00H557.43M553.83 26.40V33.60" stroke="#9400D3" stroke-width="1.0" fill="none"/><path d="M561.20 30.00H568.40M564.80 26.40V33.60" stroke="#9400D3" stroke-width="1.0" fill="none"/><path d="M572.17 30.00H579.37M575.77 26.40V33.60" stroke="#9400D3" stroke-width="1.0" fill="none"/><path d="M583.14 30.00H590.34M586.74 26.40V33.60" stroke="#9400D3" stroke-width="1.0" fill="none"/><path d="M594.11 30.00H601.31M597.71 26.40V33.60" stroke="#9400D3" stroke-width="1.0" fill="none"/><path d="M605.08 30.00H612.28M608.68 26.40V33.60" stroke="#9400D3" stroke-width="1.0" fill="none"/><path d="M616.05 30.00H623.25M619.65 26.40V33.60" stroke="#9400D3" stroke-width="1.0" fill="none"/><path d="M627.02 30.00H634.22M630.62 26.40V33.60" stroke="#9400D3" stroke-width="1.0" fill="none"/><path d="M637.99 30.00H645.19M641.59 26.40V33.60" stroke="#9400D3" stroke-width="1.0" fill="none"/><path d="M648.96 30.00H656.16M652.56 26.40V33.60" stroke="#9400D3" stroke-width="1.0" fill="none"/><path d="M659.93 30.00H667.13M663.53 26.40V33.60" stroke="#9400D3" stroke-width="1.0" fill="none"/><path d="M411.22 107.10L422.19 31.20L433.16 31.20L444.13 31.20L455.10 31.20L466.07 31.20L477.04 31.20L488.01 31.20L498.98 31.20L509.95 31.20L520.92 31.20L531.89 29.60L542.86 29.60L553.83 29.60L564.80 29.60L575.77 29.60L586.74 29.60L597.71 29.60L608.68 29.60L619.65 29.60L630.62 29.60L641.59 29.60L652.56 29.60L663.53 29.60" stroke="#009E73" stroke-width="1" fill="none" stroke-linejoin="round"/><path d="M408.72 104.60L413.72 109.60M408.72 109.60L413.72 104.60" stroke="#009E73" stroke-width="1.15" fill="none"/><path d="M419.69 28.70L424.69 33.70M419.69 33.70L424.69 28.70" stroke="#009E73" stroke-width="1.15" fill="none"/><path d="M430.66 28.70L435.66 33.70M430.66 33.70L435.66 28.70" stroke="#009E73" stroke-width="1.15" fill="none"/><path d="M441.63 28.70L446.63 33.70M441.63 33.70L446.63 28.70" stroke="#009E73" stroke-width="1.15" fill="none"/><path d="M452.60 28.70L457.60 33.70M452.60 33.70L457.60 28.70" stroke="#009E73" stroke-width="1.15" fill="none"/><path d="M463.57 28.70L468.57 33.70M463.57 33.70L468.57 28.70" stroke="#009E73" stroke-width="1.15" fill="none"/><path d="M474.54 28.70L479.54 33.70M474.54 33.70L479.54 28.70" stroke="#009E73" stroke-width="1.15" fill="none"/><path d="M485.51 28.70L490.51 33.70M485.51 33.70L490.51 28.70" stroke="#009E73" stroke-width="1.15" fill="none"/><path d="M496.48 28.70L501.48 33.70M496.48 33.70L501.48 28.70" stroke="#009E73" stroke-width="1.15" fill="none"/><path d="M507.45 28.70L512.45 33.70M507.45 33.70L512.45 28.70" stroke="#009E73" stroke-width="1.15" fill="none"/><path d="M518.42 28.70L523.42 33.70M518.42 33.70L523.42 28.70" stroke="#009E73" stroke-width="1.15" fill="none"/><path d="M529.39 27.10L534.39 32.10M529.39 32.10L534.39 27.10" stroke="#009E73" stroke-width="1.15" fill="none"/><path d="M540.36 27.10L545.36 32.10M540.36 32.10L545.36 27.10" stroke="#009E73" stroke-width="1.15" fill="none"/><path d="M551.33 27.10L556.33 32.10M551.33 32.10L556.33 27.10" stroke="#009E73" stroke-width="1.15" fill="none"/><path d="M562.30 27.10L567.30 32.10M562.30 32.10L567.30 27.10" stroke="#009E73" stroke-width="1.15" fill="none"/><path d="M573.27 27.10L578.27 32.10M573.27 32.10L578.27 27.10" stroke="#009E73" stroke-width="1.15" fill="none"/><path d="M584.24 27.10L589.24 32.10M584.24 32.10L589.24 27.10" stroke="#009E73" stroke-width="1.15" fill="none"/><path d="M595.21 27.10L600.21 32.10M595.21 32.10L600.21 27.10" stroke="#009E73" stroke-width="1.15" fill="none"/><path d="M606.18 27.10L611.18 32.10M606.18 32.10L611.18 27.10" stroke="#009E73" stroke-width="1.15" fill="none"/><path d="M617.15 27.10L622.15 32.10M617.15 32.10L622.15 27.10" stroke="#009E73" stroke-width="1.15" fill="none"/><path d="M628.12 27.10L633.12 32.10M628.12 32.10L633.12 27.10" stroke="#009E73" stroke-width="1.15" fill="none"/><path d="M639.09 27.10L644.09 32.10M639.09 32.10L644.09 27.10" stroke="#009E73" stroke-width="1.15" fill="none"/><path d="M650.06 27.10L655.06 32.10M650.06 32.10L655.06 27.10" stroke="#009E73" stroke-width="1.15" fill="none"/><path d="M661.03 27.10L666.03 32.10M661.03 32.10L666.03 27.10" stroke="#009E73" stroke-width="1.15" fill="none"/><path d="M411.22 134.00L422.19 97.70L433.16 97.20L444.13 97.20L455.10 97.20L466.07 97.20L477.04 34.30L488.01 31.00L498.98 31.00L509.95 97.20L520.92 31.80L531.89 29.80L542.86 29.80L553.83 29.80L564.80 29.80L575.77 29.80L586.74 29.80L597.71 29.80L608.68 29.80L619.65 29.80L630.62 29.80L641.59 29.80L652.56 29.80L663.53 29.80" stroke="#56B4E9" stroke-width="1" fill="none" stroke-linejoin="round"/><path d="M411.22 134.00L411.22 130.60M411.22 134.00L414.45 132.95M411.22 134.00L413.22 136.75M411.22 134.00L409.22 136.75M411.22 134.00L407.99 132.95" stroke="#56B4E9" stroke-width="1.1" fill="none" stroke-linecap="round"/><path d="M422.19 97.70L422.19 94.30M422.19 97.70L425.42 96.65M422.19 97.70L424.19 100.45M422.19 97.70L420.19 100.45M422.19 97.70L418.96 96.65" stroke="#56B4E9" stroke-width="1.1" fill="none" stroke-linecap="round"/><path d="M433.16 97.20L433.16 93.80M433.16 97.20L436.39 96.15M433.16 97.20L435.16 99.95M433.16 97.20L431.16 99.95M433.16 97.20L429.93 96.15" stroke="#56B4E9" stroke-width="1.1" fill="none" stroke-linecap="round"/><path d="M444.13 97.20L444.13 93.80M444.13 97.20L447.36 96.15M444.13 97.20L446.13 99.95M444.13 97.20L442.13 99.95M444.13 97.20L440.90 96.15" stroke="#56B4E9" stroke-width="1.1" fill="none" stroke-linecap="round"/><path d="M455.10 97.20L455.10 93.80M455.10 97.20L458.33 96.15M455.10 97.20L457.10 99.95M455.10 97.20L453.10 99.95M455.10 97.20L451.87 96.15" stroke="#56B4E9" stroke-width="1.1" fill="none" stroke-linecap="round"/><path d="M466.07 97.20L466.07 93.80M466.07 97.20L469.30 96.15M466.07 97.20L468.07 99.95M466.07 97.20L464.07 99.95M466.07 97.20L462.84 96.15" stroke="#56B4E9" stroke-width="1.1" fill="none" stroke-linecap="round"/><path d="M477.04 34.30L477.04 30.90M477.04 34.30L480.27 33.25M477.04 34.30L479.04 37.05M477.04 34.30L475.04 37.05M477.04 34.30L473.81 33.25" stroke="#56B4E9" stroke-width="1.1" fill="none" stroke-linecap="round"/><path d="M488.01 31.00L488.01 27.60M488.01 31.00L491.24 29.95M488.01 31.00L490.01 33.75M488.01 31.00L486.01 33.75M488.01 31.00L484.78 29.95" stroke="#56B4E9" stroke-width="1.1" fill="none" stroke-linecap="round"/><path d="M498.98 31.00L498.98 27.60M498.98 31.00L502.21 29.95M498.98 31.00L500.98 33.75M498.98 31.00L496.98 33.75M498.98 31.00L495.75 29.95" stroke="#56B4E9" stroke-width="1.1" fill="none" stroke-linecap="round"/><path d="M509.95 97.20L509.95 93.80M509.95 97.20L513.18 96.15M509.95 97.20L511.95 99.95M509.95 97.20L507.95 99.95M509.95 97.20L506.72 96.15" stroke="#56B4E9" stroke-width="1.1" fill="none" stroke-linecap="round"/><path d="M520.92 31.80L520.92 28.40M520.92 31.80L524.15 30.75M520.92 31.80L522.92 34.55M520.92 31.80L518.92 34.55M520.92 31.80L517.69 30.75" stroke="#56B4E9" stroke-width="1.1" fill="none" stroke-linecap="round"/><path d="M531.89 29.80L531.89 26.40M531.89 29.80L535.12 28.75M531.89 29.80L533.89 32.55M531.89 29.80L529.89 32.55M531.89 29.80L528.66 28.75" stroke="#56B4E9" stroke-width="1.1" fill="none" stroke-linecap="round"/><path d="M542.86 29.80L542.86 26.40M542.86 29.80L546.09 28.75M542.86 29.80L544.86 32.55M542.86 29.80L540.86 32.55M542.86 29.80L539.63 28.75" stroke="#56B4E9" stroke-width="1.1" fill="none" stroke-linecap="round"/><path d="M553.83 29.80L553.83 26.40M553.83 29.80L557.06 28.75M553.83 29.80L555.83 32.55M553.83 29.80L551.83 32.55M553.83 29.80L550.60 28.75" stroke="#56B4E9" stroke-width="1.1" fill="none" stroke-linecap="round"/><path d="M564.80 29.80L564.80 26.40M564.80 29.80L568.03 28.75M564.80 29.80L566.80 32.55M564.80 29.80L562.80 32.55M564.80 29.80L561.57 28.75" stroke="#56B4E9" stroke-width="1.1" fill="none" stroke-linecap="round"/><path d="M575.77 29.80L575.77 26.40M575.77 29.80L579.00 28.75M575.77 29.80L577.77 32.55M575.77 29.80L573.77 32.55M575.77 29.80L572.54 28.75" stroke="#56B4E9" stroke-width="1.1" fill="none" stroke-linecap="round"/><path d="M586.74 29.80L586.74 26.40M586.74 29.80L589.97 28.75M586.74 29.80L588.74 32.55M586.74 29.80L584.74 32.55M586.74 29.80L583.51 28.75" stroke="#56B4E9" stroke-width="1.1" fill="none" stroke-linecap="round"/><path d="M597.71 29.80L597.71 26.40M597.71 29.80L600.94 28.75M597.71 29.80L599.71 32.55M597.71 29.80L595.71 32.55M597.71 29.80L594.48 28.75" stroke="#56B4E9" stroke-width="1.1" fill="none" stroke-linecap="round"/><path d="M608.68 29.80L608.68 26.40M608.68 29.80L611.91 28.75M608.68 29.80L610.68 32.55M608.68 29.80L606.68 32.55M608.68 29.80L605.45 28.75" stroke="#56B4E9" stroke-width="1.1" fill="none" stroke-linecap="round"/><path d="M619.65 29.80L619.65 26.40M619.65 29.80L622.88 28.75M619.65 29.80L621.65 32.55M619.65 29.80L617.65 32.55M619.65 29.80L616.42 28.75" stroke="#56B4E9" stroke-width="1.1" fill="none" stroke-linecap="round"/><path d="M630.62 29.80L630.62 26.40M630.62 29.80L633.85 28.75M630.62 29.80L632.62 32.55M630.62 29.80L628.62 32.55M630.62 29.80L627.39 28.75" stroke="#56B4E9" stroke-width="1.1" fill="none" stroke-linecap="round"/><path d="M641.59 29.80L641.59 26.40M641.59 29.80L644.82 28.75M641.59 29.80L643.59 32.55M641.59 29.80L639.59 32.55M641.59 29.80L638.36 28.75" stroke="#56B4E9" stroke-width="1.1" fill="none" stroke-linecap="round"/><path d="M652.56 29.80L652.56 26.40M652.56 29.80L655.79 28.75M652.56 29.80L654.56 32.55M652.56 29.80L650.56 32.55M652.56 29.80L649.33 28.75" stroke="#56B4E9" stroke-width="1.1" fill="none" stroke-linecap="round"/><path d="M663.53 29.80L663.53 26.40M663.53 29.80L666.76 28.75M663.53 29.80L665.53 32.55M663.53 29.80L661.53 32.55M663.53 29.80L660.30 28.75" stroke="#56B4E9" stroke-width="1.1" fill="none" stroke-linecap="round"/><path d="M411.22 196.00L422.19 116.50L433.16 111.30L444.13 98.20L455.10 98.20L466.07 98.20L477.04 97.60L488.01 31.25L498.98 31.25L509.95 98.00L520.92 98.00L531.89 31.50L542.86 31.50L553.83 31.50L564.80 31.50L575.77 31.50L586.74 31.50L597.71 31.50L608.68 31.50L619.65 31.50L630.62 31.50L641.59 31.50L652.56 31.50L663.53 31.50" stroke="#E69F00" stroke-width="1" fill="none" stroke-linejoin="round"/><rect x="407.92" y="192.70" width="6.60" height="6.60" stroke="#E69F00" stroke-width="1.1" fill="none" stroke-linejoin="round"/><rect x="418.89" y="113.20" width="6.60" height="6.60" stroke="#E69F00" stroke-width="1.1" fill="none" stroke-linejoin="round"/><rect x="429.86" y="108.00" width="6.60" height="6.60" stroke="#E69F00" stroke-width="1.1" fill="none" stroke-linejoin="round"/><rect x="440.83" y="94.90" width="6.60" height="6.60" stroke="#E69F00" stroke-width="1.1" fill="none" stroke-linejoin="round"/><rect x="451.80" y="94.90" width="6.60" height="6.60" stroke="#E69F00" stroke-width="1.1" fill="none" stroke-linejoin="round"/><rect x="462.77" y="94.90" width="6.60" height="6.60" stroke="#E69F00" stroke-width="1.1" fill="none" stroke-linejoin="round"/><rect x="473.74" y="94.30" width="6.60" height="6.60" stroke="#E69F00" stroke-width="1.1" fill="none" stroke-linejoin="round"/><rect x="484.71" y="27.95" width="6.60" height="6.60" stroke="#E69F00" stroke-width="1.1" fill="none" stroke-linejoin="round"/><rect x="495.68" y="27.95" width="6.60" height="6.60" stroke="#E69F00" stroke-width="1.1" fill="none" stroke-linejoin="round"/><rect x="506.65" y="94.70" width="6.60" height="6.60" stroke="#E69F00" stroke-width="1.1" fill="none" stroke-linejoin="round"/><rect x="517.62" y="94.70" width="6.60" height="6.60" stroke="#E69F00" stroke-width="1.1" fill="none" stroke-linejoin="round"/><rect x="528.59" y="28.20" width="6.60" height="6.60" stroke="#E69F00" stroke-width="1.1" fill="none" stroke-linejoin="round"/><rect x="539.56" y="28.20" width="6.60" height="6.60" stroke="#E69F00" stroke-width="1.1" fill="none" stroke-linejoin="round"/><rect x="550.53" y="28.20" width="6.60" height="6.60" stroke="#E69F00" stroke-width="1.1" fill="none" stroke-linejoin="round"/><rect x="561.50" y="28.20" width="6.60" height="6.60" stroke="#E69F00" stroke-width="1.1" fill="none" stroke-linejoin="round"/><rect x="572.47" y="28.20" width="6.60" height="6.60" stroke="#E69F00" stroke-width="1.1" fill="none" stroke-linejoin="round"/><rect x="583.44" y="28.20" width="6.60" height="6.60" stroke="#E69F00" stroke-width="1.1" fill="none" stroke-linejoin="round"/><rect x="594.41" y="28.20" width="6.60" height="6.60" stroke="#E69F00" stroke-width="1.1" fill="none" stroke-linejoin="round"/><rect x="605.38" y="28.20" width="6.60" height="6.60" stroke="#E69F00" stroke-width="1.1" fill="none" stroke-linejoin="round"/><rect x="616.35" y="28.20" width="6.60" height="6.60" stroke="#E69F00" stroke-width="1.1" fill="none" stroke-linejoin="round"/><rect x="627.32" y="28.20" width="6.60" height="6.60" stroke="#E69F00" stroke-width="1.1" fill="none" stroke-linejoin="round"/><rect x="638.29" y="28.20" width="6.60" height="6.60" stroke="#E69F00" stroke-width="1.1" fill="none" stroke-linejoin="round"/><rect x="649.26" y="28.20" width="6.60" height="6.60" stroke="#E69F00" stroke-width="1.1" fill="none" stroke-linejoin="round"/><rect x="660.23" y="28.20" width="6.60" height="6.60" stroke="#E69F00" stroke-width="1.1" fill="none" stroke-linejoin="round"/><path d="M411.22 273.70L422.19 135.50L433.16 126.20L444.13 111.55L455.10 111.55L466.07 111.80L477.04 97.10L488.01 97.10L498.98 97.10L509.95 29.80L520.92 97.10L531.89 97.10L542.86 97.10L553.83 97.10L564.80 97.10L575.77 97.10L586.74 97.10L597.71 97.10L608.68 97.40L619.65 97.40L630.62 97.40L641.59 97.40L652.56 97.40L663.53 97.40" stroke="#F0E442" stroke-width="1" fill="none" stroke-linejoin="round"/><rect x="407.72" y="270.20" width="7.00" height="7.00" fill="#F0E442"/><rect x="418.69" y="132.00" width="7.00" height="7.00" fill="#F0E442"/><rect x="429.66" y="122.70" width="7.00" height="7.00" fill="#F0E442"/><rect x="440.63" y="108.05" width="7.00" height="7.00" fill="#F0E442"/><rect x="451.60" y="108.05" width="7.00" height="7.00" fill="#F0E442"/><rect x="462.57" y="108.30" width="7.00" height="7.00" fill="#F0E442"/><rect x="473.54" y="93.60" width="7.00" height="7.00" fill="#F0E442"/><rect x="484.51" y="93.60" width="7.00" height="7.00" fill="#F0E442"/><rect x="495.48" y="93.60" width="7.00" height="7.00" fill="#F0E442"/><rect x="506.45" y="26.30" width="7.00" height="7.00" fill="#F0E442"/><rect x="517.42" y="93.60" width="7.00" height="7.00" fill="#F0E442"/><rect x="528.39" y="93.60" width="7.00" height="7.00" fill="#F0E442"/><rect x="539.36" y="93.60" width="7.00" height="7.00" fill="#F0E442"/><rect x="550.33" y="93.60" width="7.00" height="7.00" fill="#F0E442"/><rect x="561.30" y="93.60" width="7.00" height="7.00" fill="#F0E442"/><rect x="572.27" y="93.60" width="7.00" height="7.00" fill="#F0E442"/><rect x="583.24" y="93.60" width="7.00" height="7.00" fill="#F0E442"/><rect x="594.21" y="93.60" width="7.00" height="7.00" fill="#F0E442"/><rect x="605.18" y="93.90" width="7.00" height="7.00" fill="#F0E442"/><rect x="616.15" y="93.90" width="7.00" height="7.00" fill="#F0E442"/><rect x="627.12" y="93.90" width="7.00" height="7.00" fill="#F0E442"/><rect x="638.09" y="93.90" width="7.00" height="7.00" fill="#F0E442"/><rect x="649.06" y="93.90" width="7.00" height="7.00" fill="#F0E442"/><rect x="660.03" y="93.90" width="7.00" height="7.00" fill="#F0E442"/><path d="M411.22 355.00L422.19 170.40L433.16 136.40L444.13 127.00L455.10 117.50L466.07 112.05L477.04 112.00L488.01 98.10L498.98 98.10L509.95 31.20L520.92 29.40L531.89 98.10L542.86 98.10L553.83 98.10L564.80 98.10L575.77 98.10L586.74 98.10L597.71 97.50L608.68 96.70L619.65 96.70L630.62 96.70L641.59 96.70L652.56 96.70L663.53 96.70" stroke="#0072B2" stroke-width="1" fill="none" stroke-linejoin="round"/><circle cx="411.22" cy="355.00" r="3.25" stroke="#0072B2" stroke-width="1.2" fill="none"/><circle cx="422.19" cy="170.40" r="3.25" stroke="#0072B2" stroke-width="1.2" fill="none"/><circle cx="433.16" cy="136.40" r="3.25" stroke="#0072B2" stroke-width="1.2" fill="none"/><circle cx="444.13" cy="127.00" r="3.25" stroke="#0072B2" stroke-width="1.2" fill="none"/><circle cx="455.10" cy="117.50" r="3.25" stroke="#0072B2" stroke-width="1.2" fill="none"/><circle cx="466.07" cy="112.05" r="3.25" stroke="#0072B2" stroke-width="1.2" fill="none"/><circle cx="477.04" cy="112.00" r="3.25" stroke="#0072B2" stroke-width="1.2" fill="none"/><circle cx="488.01" cy="98.10" r="3.25" stroke="#0072B2" stroke-width="1.2" fill="none"/><circle cx="498.98" cy="98.10" r="3.25" stroke="#0072B2" stroke-width="1.2" fill="none"/><circle cx="509.95" cy="31.20" r="3.25" stroke="#0072B2" stroke-width="1.2" fill="none"/><circle cx="520.92" cy="29.40" r="3.25" stroke="#0072B2" stroke-width="1.2" fill="none"/><circle cx="531.89" cy="98.10" r="3.25" stroke="#0072B2" stroke-width="1.2" fill="none"/><circle cx="542.86" cy="98.10" r="3.25" stroke="#0072B2" stroke-width="1.2" fill="none"/><circle cx="553.83" cy="98.10" r="3.25" stroke="#0072B2" stroke-width="1.2" fill="none"/><circle cx="564.80" cy="98.10" r="3.25" stroke="#0072B2" stroke-width="1.2" fill="none"/><circle cx="575.77" cy="98.10" r="3.25" stroke="#0072B2" stroke-width="1.2" fill="none"/><circle cx="586.74" cy="98.10" r="3.25" stroke="#0072B2" stroke-width="1.2" fill="none"/><circle cx="597.71" cy="97.50" r="3.25" stroke="#0072B2" stroke-width="1.2" fill="none"/><circle cx="608.68" cy="96.70" r="3.25" stroke="#0072B2" stroke-width="1.2" fill="none"/><circle cx="619.65" cy="96.70" r="3.25" stroke="#0072B2" stroke-width="1.2" fill="none"/><circle cx="630.62" cy="96.70" r="3.25" stroke="#0072B2" stroke-width="1.2" fill="none"/><circle cx="641.59" cy="96.70" r="3.25" stroke="#0072B2" stroke-width="1.2" fill="none"/><circle cx="652.56" cy="96.70" r="3.25" stroke="#0072B2" stroke-width="1.2" fill="none"/><circle cx="663.53" cy="96.70" r="3.25" stroke="#0072B2" stroke-width="1.2" fill="none"/><path d="M411.22 464.00L422.19 209.50L433.16 153.00L444.13 137.30L455.10 127.20L466.07 127.20L477.04 111.80L488.01 111.80L498.98 111.80L509.95 111.80L520.92 111.80L531.89 111.80L542.86 111.80L553.83 111.80L564.80 111.80L575.77 111.80L586.74 111.80L597.71 97.80L608.68 98.30L619.65 98.30L630.62 98.30L641.59 98.30L652.56 98.30L663.53 98.30" stroke="#E51E10" stroke-width="1" fill="none" stroke-linejoin="round"/><circle cx="411.22" cy="464.00" r="3.6" fill="#E51E10"/><circle cx="422.19" cy="209.50" r="3.6" fill="#E51E10"/><circle cx="433.16" cy="153.00" r="3.6" fill="#E51E10"/><circle cx="444.13" cy="137.30" r="3.6" fill="#E51E10"/><circle cx="455.10" cy="127.20" r="3.6" fill="#E51E10"/><circle cx="466.07" cy="127.20" r="3.6" fill="#E51E10"/><circle cx="477.04" cy="111.80" r="3.6" fill="#E51E10"/><circle cx="488.01" cy="111.80" r="3.6" fill="#E51E10"/><circle cx="498.98" cy="111.80" r="3.6" fill="#E51E10"/><circle cx="509.95" cy="111.80" r="3.6" fill="#E51E10"/><circle cx="520.92" cy="111.80" r="3.6" fill="#E51E10"/><circle cx="531.89" cy="111.80" r="3.6" fill="#E51E10"/><circle cx="542.86" cy="111.80" r="3.6" fill="#E51E10"/><circle cx="553.83" cy="111.80" r="3.6" fill="#E51E10"/><circle cx="564.80" cy="111.80" r="3.6" fill="#E51E10"/><circle cx="575.77" cy="111.80" r="3.6" fill="#E51E10"/><circle cx="586.74" cy="111.80" r="3.6" fill="#E51E10"/><circle cx="597.71" cy="97.80" r="3.6" fill="#E51E10"/><circle cx="608.68" cy="98.30" r="3.6" fill="#E51E10"/><circle cx="619.65" cy="98.30" r="3.6" fill="#E51E10"/><circle cx="630.62" cy="98.30" r="3.6" fill="#E51E10"/><circle cx="641.59" cy="98.30" r="3.6" fill="#E51E10"/><circle cx="652.56" cy="98.30" r="3.6" fill="#E51E10"/><circle cx="663.53" cy="98.30" r="3.6" fill="#E51E10"/><path d="M411.22 330.00L422.19 256.00L433.16 178.00L444.13 154.50L455.10 137.80L466.07 130.30L477.04 127.00L488.01 111.80L498.98 111.80L509.95 111.80L520.92 111.80L531.89 111.80L542.86 111.80L553.83 111.80L564.80 111.80L575.77 111.80L586.74 111.80L597.71 111.80L608.68 98.50L619.65 98.50L630.62 98.50L641.59 98.50L652.56 98.50L663.53 98.50" stroke="#000000" stroke-width="1" fill="none" stroke-linejoin="round"/><path d="M411.22 327.25L413.82 331.60H408.62Z" stroke="#000000" stroke-width="1.05" fill="none" stroke-linejoin="round"/><path d="M422.19 253.25L424.79 257.60H419.59Z" stroke="#000000" stroke-width="1.05" fill="none" stroke-linejoin="round"/><path d="M433.16 175.25L435.76 179.60H430.56Z" stroke="#000000" stroke-width="1.05" fill="none" stroke-linejoin="round"/><path d="M444.13 151.75L446.73 156.10H441.53Z" stroke="#000000" stroke-width="1.05" fill="none" stroke-linejoin="round"/><path d="M455.10 135.05L457.70 139.40H452.50Z" stroke="#000000" stroke-width="1.05" fill="none" stroke-linejoin="round"/><path d="M466.07 127.55L468.67 131.90H463.47Z" stroke="#000000" stroke-width="1.05" fill="none" stroke-linejoin="round"/><path d="M477.04 124.25L479.64 128.60H474.44Z" stroke="#000000" stroke-width="1.05" fill="none" stroke-linejoin="round"/><path d="M488.01 109.05L490.61 113.40H485.41Z" stroke="#000000" stroke-width="1.05" fill="none" stroke-linejoin="round"/><path d="M498.98 109.05L501.58 113.40H496.38Z" stroke="#000000" stroke-width="1.05" fill="none" stroke-linejoin="round"/><path d="M509.95 109.05L512.55 113.40H507.35Z" stroke="#000000" stroke-width="1.05" fill="none" stroke-linejoin="round"/><path d="M520.92 109.05L523.52 113.40H518.32Z" stroke="#000000" stroke-width="1.05" fill="none" stroke-linejoin="round"/><path d="M531.89 109.05L534.49 113.40H529.29Z" stroke="#000000" stroke-width="1.05" fill="none" stroke-linejoin="round"/><path d="M542.86 109.05L545.46 113.40H540.26Z" stroke="#000000" stroke-width="1.05" fill="none" stroke-linejoin="round"/><path d="M553.83 109.05L556.43 113.40H551.23Z" stroke="#000000" stroke-width="1.05" fill="none" stroke-linejoin="round"/><path d="M564.80 109.05L567.40 113.40H562.20Z" stroke="#000000" stroke-width="1.05" fill="none" stroke-linejoin="round"/><path d="M575.77 109.05L578.37 113.40H573.17Z" stroke="#000000" stroke-width="1.05" fill="none" stroke-linejoin="round"/><path d="M586.74 109.05L589.34 113.40H584.14Z" stroke="#000000" stroke-width="1.05" fill="none" stroke-linejoin="round"/><path d="M597.71 109.05L600.31 113.40H595.11Z" stroke="#000000" stroke-width="1.05" fill="none" stroke-linejoin="round"/><path d="M608.68 95.75L611.28 100.10H606.08Z" stroke="#000000" stroke-width="1.05" fill="none" stroke-linejoin="round"/><path d="M619.65 95.75L622.25 100.10H617.05Z" stroke="#000000" stroke-width="1.05" fill="none" stroke-linejoin="round"/><path d="M630.62 95.75L633.22 100.10H628.02Z" stroke="#000000" stroke-width="1.05" fill="none" stroke-linejoin="round"/><path d="M641.59 95.75L644.19 100.10H638.99Z" stroke="#000000" stroke-width="1.05" fill="none" stroke-linejoin="round"/><path d="M652.56 95.75L655.16 100.10H649.96Z" stroke="#000000" stroke-width="1.05" fill="none" stroke-linejoin="round"/><path d="M663.53 95.75L666.13 100.10H660.93Z" stroke="#000000" stroke-width="1.05" fill="none" stroke-linejoin="round"/></g>
</svg></body></html>
